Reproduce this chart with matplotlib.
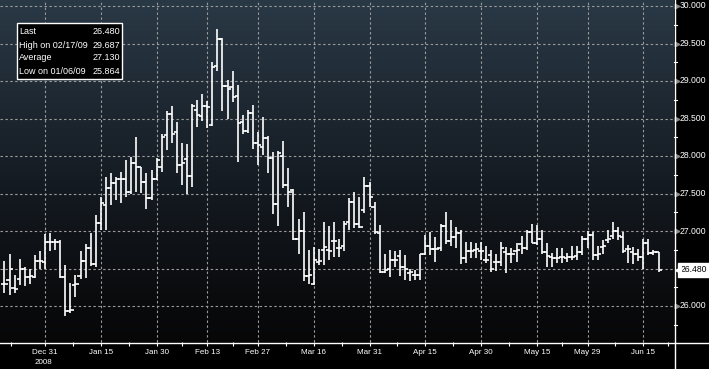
import numpy as np
import pandas as pd
import matplotlib
matplotlib.use("Agg")
import matplotlib.pyplot as plt
from matplotlib.colors import LinearSegmentedColormap
from matplotlib.lines import Line2D

# ---------------- data ----------------
dates = pd.bdate_range("2008-12-19", "2009-06-18")

opens = [26.30, 26.35, 26.24, 26.36, 26.49, 26.39, 26.39, 26.60, 26.59, 26.86,
         26.86, 26.86, 26.39, 25.93, 26.28, 26.40, 26.60, 26.77, 26.56, 27.11,
         27.35, 27.57, 27.64, 27.70, 27.70, 27.52, 27.91, 27.86, 27.66, 27.44,
         27.69, 27.86, 28.28, 28.56, 28.32, 27.88, 27.96, 27.73, 28.62, 28.53,
         28.67, 28.41, 29.20, 29.56, 28.94, 28.92, 28.80, 28.46, 28.33, 28.57,
         28.17, 28.12, 28.24, 27.97, 27.36, 28.00, 27.62, 27.55, 26.90, 27.00,
         26.40, 26.30, 26.59, 26.75, 26.75, 26.87, 26.78, 26.80, 27.12, 27.39,
         27.10, 27.28, 27.60, 27.32, 26.98, 26.45, 26.50, 26.62, 26.67, 26.52,
         26.44, 26.41, 26.41, 26.70, 26.80, 26.76, 26.77, 27.07, 26.87, 26.92,
         26.97, 26.64, 26.74, 26.75, 26.74, 26.62, 26.68, 26.59, 26.59, 26.72,
         26.69, 26.73, 26.83, 26.78, 26.99, 26.84, 26.89, 26.72, 26.66, 26.64,
         26.65, 26.64, 26.66, 26.67, 26.72, 26.89, 26.95, 26.68, 26.79, 26.88,
         26.93, 27.00, 26.92, 26.76, 26.72, 26.70, 26.66, 26.84, 26.71, 26.72]
highs = [26.60, 26.69, 26.41, 26.63, 26.52, 26.50, 26.68, 26.73, 26.96, 26.97,
         26.89, 26.88, 26.55, 26.31, 26.42, 26.74, 26.83, 26.97, 27.22, 27.45,
         27.72, 27.77, 27.72, 27.79, 27.95, 27.99, 28.25, 27.86, 27.77, 27.81,
         27.97, 28.29, 28.60, 28.67, 28.46, 28.17, 28.16, 28.69, 28.75, 28.83,
         28.73, 29.25, 29.687, 29.57, 29.01, 29.13, 28.95, 28.55, 28.62, 28.68,
         28.32, 28.52, 28.27, 28.05, 28.07, 28.20, 27.84, 27.56, 27.16, 27.26,
         26.75, 26.79, 26.76, 27.12, 27.07, 27.12, 26.89, 27.14, 27.44, 27.52,
         27.46, 27.72, 27.65, 27.39, 27.08, 26.70, 26.75, 26.74, 26.75, 26.68,
         26.50, 26.48, 26.70, 26.95, 26.99, 26.92, 27.09, 27.25, 27.15, 27.06,
         27.02, 26.85, 26.86, 26.84, 26.86, 26.80, 26.75, 26.70, 26.86, 26.79,
         26.77, 26.84, 26.93, 27.02, 27.09, 27.08, 27.02, 26.84, 26.71, 26.77,
         26.78, 26.71, 26.80, 26.80, 26.93, 27.00, 26.99, 26.80, 26.88, 27.01,
         27.12, 27.06, 26.99, 26.81, 26.79, 26.76, 26.90, 26.89, 26.75, 26.72]
lows = [26.17, 26.15, 26.17, 26.28, 26.27, 26.30, 26.38, 26.50, 26.50, 26.74,
        26.75, 26.38, 25.864, 25.91, 26.12, 26.36, 26.37, 26.54, 26.52, 27.02,
        27.02, 27.35, 27.41, 27.37, 27.45, 27.50, 27.52, 27.51, 27.30, 27.41,
        27.68, 27.79, 28.08, 28.17, 27.78, 27.61, 27.50, 27.59, 28.39, 28.47,
        28.38, 28.40, 29.14, 28.60, 28.50, 28.72, 27.92, 28.30, 28.31, 28.10,
        27.88, 28.01, 27.78, 27.23, 27.07, 27.57, 27.32, 26.88, 26.70, 26.34,
        26.30, 26.28, 26.55, 26.55, 26.61, 26.66, 26.66, 26.74, 27.01, 27.04,
        27.04, 27.24, 27.32, 26.96, 26.44, 26.44, 26.39, 26.52, 26.40, 26.35,
        26.34, 26.35, 26.35, 26.68, 26.68, 26.59, 26.74, 26.83, 26.80, 26.78,
        26.56, 26.57, 26.64, 26.64, 26.61, 26.58, 26.46, 26.47, 26.53, 26.44,
        26.57, 26.59, 26.69, 26.75, 26.84, 26.81, 26.70, 26.52, 26.52, 26.57,
        26.57, 26.59, 26.61, 26.61, 26.68, 26.77, 26.62, 26.62, 26.70, 26.84,
        26.89, 26.88, 26.71, 26.57, 26.56, 26.60, 26.50, 26.68, 26.68, 26.46]
closes = [26.29, 26.50, 26.23, 26.50, 26.39, 26.40, 26.60, 26.60, 26.86, 26.86,
          26.86, 26.39, 25.93, 25.95, 26.30, 26.60, 26.77, 26.56, 27.11, 27.38,
          27.57, 27.64, 27.70, 27.70, 27.52, 27.91, 27.86, 27.66, 27.44, 27.69,
          27.95, 28.26, 28.56, 28.30, 27.88, 27.91, 27.73, 28.67, 28.55, 28.67,
          28.65, 29.19, 29.56, 28.94, 28.90, 28.79, 28.44, 28.33, 28.57, 28.18,
          28.15, 28.24, 27.97, 27.36, 28.04, 27.62, 27.52, 26.90, 27.00, 26.40,
          26.41, 26.62, 26.60, 26.79, 26.74, 26.87, 26.78, 27.10, 27.39, 27.10,
          27.05, 27.60, 27.45, 26.99, 26.45, 26.48, 26.62, 26.62, 26.52, 26.50,
          26.45, 26.42, 26.70, 26.80, 26.76, 26.76, 27.07, 26.87, 26.92, 26.97,
          26.64, 26.74, 26.74, 26.76, 26.74, 26.62, 26.50, 26.59, 26.77, 26.70,
          26.69, 26.75, 26.78, 26.99, 26.84, 26.89, 26.72, 26.67, 26.64, 26.64,
          26.65, 26.65, 26.66, 26.72, 26.89, 26.95, 26.68, 26.70, 26.80, 26.90,
          27.00, 26.93, 26.74, 26.76, 26.70, 26.66, 26.84, 26.71, 26.72, 26.48]

tick_dates = ["2008-12-31", "2009-01-15", "2009-01-30", "2009-02-13", "2009-02-27",
              "2009-03-16", "2009-03-31", "2009-04-15", "2009-04-30", "2009-05-15",
              "2009-05-29", "2009-06-15"]
tick_labels = ["Dec 31", "Jan 15", "Jan 30", "Feb 13", "Feb 27", "Mar 16",
               "Mar 31", "Apr 15", "Apr 30", "May 15", "May 29", "Jun 15"]
y_ticks = [26.0, 26.5, 27.0, 27.5, 28.0, 28.5, 29.0, 29.5, 30.0]

info_labels = ["Last", "High on 02/17/09", "Average", "Low on 01/06/09"]
info_values = ["26.480", "29.687", "27.130", "25.864"]
last_value = 26.480

# ---------------- figure ----------------
W, H = 709, 369
FONT = ["Liberation Sans Narrow", "Liberation Sans", "DejaVu Sans"]
plt.rcParams["font.family"] = FONT

fig = plt.figure(figsize=(W / 100, H / 100), dpi=100, facecolor="black")
axl, axb, axw, axh = 0, 27, 674, 342
ax = fig.add_axes([axl / W, axb / H, axw / W, axh / H])
ax.set_facecolor("black")

x = np.arange(len(dates))
xlim = (-0.88, 132.05)
ylim = (25.52, 30.08)
ax.set_xlim(*xlim)
ax.set_ylim(*ylim)

# gradient background
cmap = LinearSegmentedColormap.from_list(
    "bg", [(0.0, "#070708"), (0.12, "#0a0b0d"), (0.45, "#141a21"), (1.0, "#2a3946")])
grad = np.linspace(0, 1, 256).reshape(-1, 1)
ax.imshow(grad, extent=[xlim[0], xlim[1], ylim[0], ylim[1]], origin="lower",
          aspect="auto", cmap=cmap, zorder=0, interpolation="bicubic")

# grid
tick_pos = [dates.get_loc(pd.Timestamp(d)) for d in tick_dates]
gkw = dict(color="#9a9a9a", lw=0.8, linestyle=(0, (2.2, 2.2)), zorder=1)
for yv in y_ticks:
    ax.axhline(yv, **gkw)
for xv in tick_pos:
    ax.axvline(xv, **gkw)

# OHLC bars
bar_kw = dict(color="white", lw=1.2, zorder=3, capstyle="butt")
tick_len = 0.62
ax.vlines(x, lows, highs, **bar_kw)
ax.hlines(opens, x - tick_len, x, **bar_kw)
ax.hlines(closes, x, x + tick_len, **bar_kw)

for s in ax.spines.values():
    s.set_visible(False)

# x ticks
ax.set_xticks(tick_pos)
ax.set_xticklabels(tick_labels)
mids = [(tick_pos[k] + tick_pos[k + 1]) / 2 for k in range(len(tick_pos) - 1)]
mids = [tick_pos[0] - 6.8] + mids + [tick_pos[-1] + 4.8]
ax.set_xticks(mids, minor=True)
ax.tick_params(axis="x", which="major", length=3, color="white", width=0.8,
               labelsize=5.8, labelcolor="white", pad=2)
ax.tick_params(axis="x", which="minor", length=3, color="white", width=0.8)
ax.tick_params(axis="y", left=False, labelleft=False)

# y labels on right
for yv in y_ticks:
    if abs(yv - 26.5) < 1e-6:
        continue
    ax.text(1.0 + 6 / axw, yv, f"{yv:.3f}", transform=ax.get_yaxis_transform(),
            color="white", fontsize=6.2, va="center", ha="left", clip_on=False)
    ax.plot([1.0 + 2.5 / axw], [yv], marker=">", ms=3.2, color="#8a8a8a",
            transform=ax.get_yaxis_transform(), clip_on=False, zorder=5)
for yv in np.arange(25.75, 30.0, 0.5):
    ax.plot([1.0, 1.0 + 3 / axw], [yv, yv], color="white", lw=0.8,
            transform=ax.get_yaxis_transform(), clip_on=False)

# last-price flag
ax.text(1.0 + 7 / axw, last_value, "26.480", transform=ax.get_yaxis_transform(),
        color="black", fontsize=6.2, va="center", ha="left", clip_on=False, zorder=6,
        bbox=dict(boxstyle="square,pad=0.3", fc="white", ec="white"))
ax.plot([1.0 + 3.5 / axw], [last_value], marker="<", ms=4, color="white",
        transform=ax.get_yaxis_transform(), clip_on=False, zorder=6)

# frame lines (figure pixel coordinates)
fig.add_artist(Line2D([0, W], [1 - 342.5 / H, 1 - 342.5 / H], color="white", lw=1.0,
                      transform=fig.transFigure))
fig.add_artist(Line2D([674.5 / W, 674.5 / W], [0, 1], color="white", lw=1.0,
                      transform=fig.transFigure))

# year label
fig.text(43 / W, 1 - 363 / H, "2008", color="white", fontsize=5.8,
         ha="center", va="center")

# info box
bx0, by0, bx1, by1 = 17, 23, 122, 79
fig.patches.append(plt.Rectangle((bx0 / W, 1 - by1 / H), (bx1 - bx0) / W, (by1 - by0) / H,
                                 transform=fig.transFigure, fc="black", ec="white",
                                 lw=1.0, zorder=10))
rows_y = [32, 45, 58, 71.5]
for lab, val, ry in zip(info_labels, info_values, rows_y):
    fig.text(19 / W, 1 - ry / H, lab, color="white", fontsize=6.5, ha="left",
             va="center", zorder=11)
    fig.text(120.5 / W, 1 - ry / H, val, color="white", fontsize=6.5, ha="right",
             va="center", zorder=11)

fig.savefig("out.png", dpi=100, facecolor="black")
